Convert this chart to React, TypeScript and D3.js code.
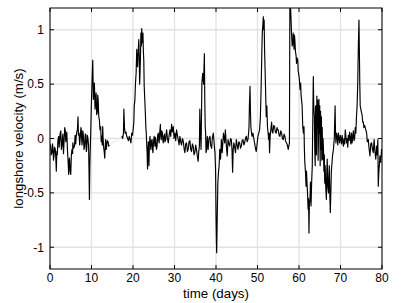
import React from "react";
import * as d3 from "d3";

const xTickValues = [0, 10, 20, 30, 40, 50, 60, 70, 80];
const yTickValues = [-1, -0.5, 0, 0.5, 1];
const xDomain: [number, number] = [0, 80];
const yDomain: [number, number] = [-1.2, 1.2];

// [time (days), longshore velocity (m/s)]
const record1: [number, number][] = [
  [0, -0.05], [0.16, -0.07], [0.3, -0.15], [0.48, -0.13], [0.6, -0.05], [0.72, -0.09], [0.85, -0.2], [0.96, -0.16],
  [1.1, -0.08], [1.28, -0.1], [1.4, -0.18], [1.52, -0.3], [1.65, -0.12], [1.76, -0.15], [1.9, -0.02], [2.1, 0.02],
  [2.2, -0.08], [2.3, -0.04], [2.45, 0.05], [2.6, 0.07], [2.75, -0.1], [2.9, -0.06], [3.0, 0.0], [3.1, 0.04],
  [3.25, -0.14], [3.4, -0.02], [3.55, 0.1], [3.7, 0.07], [3.8, -0.03], [3.9, 0.01], [4.05, 0.06], [4.2, -0.1],
  [4.35, -0.2], [4.5, -0.33], [4.6, -0.2], [4.7, -0.18], [4.85, -0.3], [5.0, -0.33], [5.15, -0.15], [5.3, -0.1],
  [5.45, -0.14], [5.5, -0.04], [5.7, -0.09], [5.9, -0.07], [6.05, 0.03], [6.2, -0.05], [6.3, 0.01], [6.45, 0.06],
  [6.6, 0.08], [6.75, 0.2], [6.85, 0.03], [7.0, 0.05], [7.15, -0.06], [7.3, 0.01], [7.45, 0.1], [7.55, 0.08],
  [7.7, -0.06], [7.8, -0.02], [7.9, 0.07], [8.0, 0.05], [8.2, -0.1], [8.35, -0.07], [8.5, 0.04], [8.6, 0.04],
  [8.75, -0.12], [8.85, -0.1], [9.0, 0.03], [9.15, 0.0], [9.3, -0.07], [9.4, -0.3], [9.5, -0.56], [9.6, -0.25],
  [9.7, -0.1], [9.8, 0.04], [9.9, 0.2], [10.0, 0.36], [10.15, 0.55], [10.3, 0.72], [10.45, 0.36], [10.6, 0.45],
  [10.7, 0.51], [10.85, 0.27], [11.0, 0.35], [11.1, 0.42], [11.25, 0.22], [11.4, 0.24], [11.5, 0.4], [11.6, 0.36],
  [11.75, 0.2], [11.9, 0.17], [12.05, 0.08], [12.2, 0.11], [12.35, -0.03], [12.45, 0.02], [12.6, -0.06], [12.7, 0.11],
  [12.8, 0.0], [12.9, -0.07], [13.05, -0.12], [13.2, -0.18], [13.3, -0.08], [13.4, -0.01], [13.55, -0.1], [13.65, -0.07],
  [13.8, -0.02], [14.0, -0.03], [14.15, -0.07], [14.3, -0.06],
];

const gapRecord: [number, number][] = [
  [14.3, -0.06], [15.3, -0.03], [16.3, -0.02], [17.3, 0.02],
];

const record2: [number, number][] = [
  [17.3, 0.02], [17.5, 0.0], [17.7, 0.05], [17.8, 0.27], [17.95, 0.1], [18.1, 0.05], [18.3, 0.06], [18.5, 0.02],
  [18.7, 0.0], [18.9, -0.02], [19.1, 0.02], [19.3, -0.01], [19.5, -0.04], [19.7, 0.05], [19.9, 0.03], [20.1, 0.11],
  [20.2, 0.15], [20.3, 0.3], [20.45, 0.35], [20.6, 0.51], [20.75, 0.6], [20.9, 0.82], [21.0, 0.7], [21.1, 0.66],
  [21.25, 0.8], [21.4, 0.91], [21.5, 0.76], [21.6, 0.5], [21.7, 0.6], [21.8, 0.75], [21.9, 0.97], [22.0, 0.85],
  [22.1, 1.01], [22.25, 0.88], [22.4, 0.97], [22.5, 0.8], [22.6, 0.72], [22.7, 0.48], [22.85, 0.35], [22.97, 0.24],
  [23.1, 0.1], [23.2, 0.05], [23.3, -0.05], [23.4, -0.13], [23.5, -0.28], [23.6, -0.1], [23.7, -0.03], [23.85, -0.25],
  [23.95, -0.05], [24.1, 0.02], [24.2, -0.05], [24.3, -0.1], [24.45, -0.02], [24.6, -0.01], [24.7, -0.1], [24.8, -0.13],
  [24.95, -0.03], [25.1, 0.02], [25.2, -0.04], [25.3, -0.07], [25.4, 0.01], [25.5, -0.01], [25.65, -0.1], [25.8, -0.07],
  [25.95, 0.03], [26.1, 0.05], [26.2, -0.02], [26.3, -0.04], [26.45, 0.06], [26.6, 0.13], [26.7, 0.02], [26.8, -0.01],
  [26.95, 0.07], [27.1, 0.05], [27.2, -0.02], [27.3, -0.04], [27.45, 0.02], [27.6, 0.04], [27.7, -0.03], [27.9, -0.01],
  [28.0, 0.05], [28.1, 0.08], [28.3, 0.0], [28.5, -0.04], [28.7, 0.03], [28.9, 0.08], [29.1, 0.02], [29.3, 0.13],
  [29.5, 0.06], [29.7, 0.11], [29.9, 0.0], [30.1, 0.05], [30.3, -0.02], [30.5, 0.08], [30.7, 0.03], [30.9, -0.01],
  [31.1, -0.06], [31.3, 0.02], [31.5, -0.03], [31.7, -0.06], [31.9, 0.0], [32.1, -0.02], [32.3, -0.09], [32.5, -0.13],
  [32.7, -0.05], [32.9, -0.04], [33.1, -0.12], [33.3, -0.1], [33.5, -0.03], [33.7, -0.02], [33.9, -0.1], [34.1, -0.12],
  [34.3, -0.05], [34.5, -0.07], [34.7, -0.15], [34.9, -0.13], [35.1, -0.06], [35.3, -0.1], [35.5, -0.16], [35.7, -0.21],
  [35.85, -0.12], [36.0, -0.07], [36.1, 0.27], [36.25, 0.05], [36.4, -0.1], [36.5, 0.2], [36.6, 0.51], [36.8, 0.6],
  [37.0, 0.5], [37.2, 0.78], [37.3, 0.35], [37.4, 0.11], [37.5, 0.05], [37.6, -0.13], [37.75, -0.1], [37.9, 0.02],
  [38.0, -0.05], [38.1, -0.1], [38.3, 0.0], [38.55, 0.02], [38.7, -0.06], [38.95, -0.09], [39.1, 0.0], [39.35, 0.05],
  [39.5, -0.02], [39.6, -0.07], [39.76, -0.13], [39.9, -0.3], [40.0, -0.7], [40.1, -0.95], [40.16, -1.05], [40.25, -0.85],
  [40.3, -0.71], [40.45, -0.4], [40.6, -0.31], [40.75, -0.25], [40.9, -0.1], [41.1, -0.19], [41.3, -0.01], [41.5, -0.13],
  [41.8, 0.05], [42.1, -0.04], [42.25, 0.08], [42.5, -0.07], [42.7, -0.16], [42.9, -0.01], [43.1, -0.05], [43.3, -0.07],
  [43.5, 0.0], [43.7, -0.01], [43.85, -0.1], [44.0, -0.31], [44.15, -0.1], [44.3, -0.04], [44.5, -0.08], [44.7, -0.13],
  [44.9, -0.01], [45.1, -0.06], [45.3, -0.1], [45.5, -0.03], [45.7, -0.04], [45.9, -0.09], [46.1, -0.07], [46.3, -0.02],
  [46.5, -0.01], [46.7, -0.06], [46.9, -0.04], [47.1, 0.0], [47.3, 0.02], [47.5, -0.03], [47.7, -0.01], [47.85, 0.05],
  [47.95, 0.1], [48.05, 0.3], [48.2, 0.48], [48.3, 0.25], [48.4, 0.11], [48.55, 0.05], [48.7, 0.02], [48.9, 0.05],
  [49.1, 0.0], [49.3, -0.04], [49.5, -0.09], [49.7, -0.12], [49.9, -0.05], [50.1, 0.02], [50.3, 0.05], [50.5, 0.08],
  [50.7, 0.2], [50.9, 0.51], [51.05, 0.8], [51.15, 0.97], [51.3, 1.05], [51.4, 1.12], [51.5, 1.0], [51.6, 1.09],
  [51.7, 0.82], [51.85, 0.6], [52.0, 0.36], [52.1, 0.2], [52.25, 0.3], [52.4, 0.11], [52.55, 0.05], [52.7, -0.01],
  [52.8, 0.05], [52.9, -0.13], [53.05, 0.02], [53.2, 0.08], [53.4, 0.15], [53.55, 0.06], [53.7, 0.05], [53.9, 0.12],
  [54.1, 0.11], [54.3, 0.06], [54.5, 0.05], [54.7, 0.1], [54.85, 0.08], [55.0, 0.08], [55.2, 0.03], [55.4, 0.02],
  [55.6, 0.07], [55.8, 0.05], [56.0, 0.0], [56.2, -0.01], [56.4, 0.04], [56.6, 0.02], [56.8, -0.03], [57.0, -0.04],
  [57.2, -0.06], [57.4, -0.1], [57.55, -0.07], [57.7, -0.04], [57.8, 1.25], [58.0, 1.18], [58.2, 0.97], [58.35, 0.85],
  [58.5, 0.88], [58.6, 0.97], [58.7, 0.9], [58.8, 0.82], [58.9, 0.95], [59.0, 0.91], [59.15, 0.8], [59.3, 0.76],
  [59.4, 0.69], [59.55, 0.74], [59.7, 0.72], [59.8, 0.62], [59.9, 0.6], [60.1, 0.54], [60.25, 0.45], [60.4, 0.51],
  [60.5, 0.4], [60.6, 0.36], [60.75, 0.3], [60.9, 0.11], [61.05, 0.05], [61.2, 0.11], [61.3, -0.1], [61.4, -0.22],
  [61.55, -0.3], [61.7, -0.44], [61.8, -0.3], [61.9, -0.38], [62.05, -0.5], [62.2, -0.65], [62.3, -0.55], [62.4, -0.87],
  [62.5, -0.6], [62.65, -0.56], [62.75, -0.4], [62.9, -0.62], [63.05, -0.4], [63.2, -0.25], [63.3, 0.1], [63.45, 0.57],
  [63.55, 0.3], [63.7, 0.2], [63.8, -0.1], [63.9, -0.25], [64.0, 0.3], [64.1, 0.11], [64.2, -0.15], [64.3, 0.39],
  [64.4, 0.1], [64.5, 0.35], [64.6, -0.2], [64.7, -0.01], [64.8, 0.36], [64.9, 0.05], [65.0, 0.3], [65.1, -0.25],
  [65.2, 0.25], [65.3, -0.1], [65.4, 0.2], [65.5, -0.2], [65.6, 0.1], [65.7, -0.19], [65.8, 0.0], [65.9, -0.1],
  [66.0, -0.3], [66.1, -0.15], [66.2, -0.41], [66.3, -0.25], [66.45, -0.45], [66.6, -0.56], [66.7, -0.3], [66.8, -0.19],
  [66.95, -0.45], [67.1, -0.5], [67.2, -0.35], [67.3, -0.25], [67.45, -0.55], [67.55, -0.68], [67.7, -0.45], [67.8, -0.3],
  [67.9, -0.25], [68.1, -0.15], [68.3, -0.1], [68.5, 0.0], [68.7, 0.3], [68.8, 0.05], [68.9, -0.04], [69.05, 0.05],
  [69.2, 0.02], [69.35, -0.06], [69.5, 0.05], [69.65, 0.0], [69.8, -0.04], [69.95, 0.03], [70.1, 0.0], [70.25, -0.05],
  [70.4, 0.03], [70.55, -0.03], [70.7, -0.07], [70.85, 0.0], [71.0, -0.05], [71.15, 0.08], [71.3, 0.02], [71.45, -0.04],
  [71.6, 0.0], [71.75, -0.08], [71.9, 0.03], [72.05, -0.02], [72.2, 0.06], [72.35, 0.0], [72.5, -0.05], [72.65, 0.05],
  [72.8, -0.04], [72.95, 0.02], [73.1, 0.07], [73.25, -0.02], [73.4, 0.0], [73.55, 0.1], [73.7, 0.05], [73.85, 0.2],
  [74.0, 0.3], [74.15, 0.5], [74.3, 0.85], [74.45, 1.09], [74.55, 0.8], [74.65, 0.5], [74.75, 0.3], [74.9, 0.27],
  [75.05, 0.24], [75.2, 0.22], [75.35, 0.15], [75.5, 0.15], [75.65, 0.1], [75.8, 0.12], [75.9, 0.11], [76.1, 0.08],
  [76.3, 0.05], [76.45, -0.03], [76.7, -0.01], [76.85, -0.08], [77.1, -0.16], [77.3, -0.05], [77.5, -0.04], [77.7, -0.1],
  [77.9, -0.13], [78.1, -0.01], [78.3, -0.12], [78.5, -0.19], [78.7, -0.07], [78.85, -0.15], [79.0, -0.01], [79.1, -0.44],
  [79.25, -0.3], [79.35, -0.25], [79.5, -0.16], [79.7, -0.22], [79.9, -0.1], [80.0, -0.15],
];

const W = 416;
const H = 303;
const left = 50;
const right = 382;
const top = 8;
const bottom = 269;

export default function App() {
  const x = d3.scaleLinear().domain(xDomain).range([left, right]);
  const y = d3.scaleLinear().domain(yDomain).range([bottom, top]);
  const line = d3
    .line<[number, number]>()
    .x((d) => x(d[0]))
    .y((d) => y(d[1]));
  const font = "'Liberation Sans', Arial, Helvetica, sans-serif";
  const tickLen = 4;
  return (
    <svg
      width={W}
      height={H}
      style={{ position: "absolute", left: 0, top: 0, background: "#fff" }}
    >
      <defs>
        <clipPath id="plotClip">
          <rect x={left} y={top} width={right - left} height={bottom - top} />
        </clipPath>
      </defs>
      <rect x={0} y={0} width={W} height={H} fill="#fff" />
      {/* grid */}
      {xTickValues.map((t) => (
        <line key={"gx" + t} x1={x(t)} x2={x(t)} y1={top} y2={bottom} stroke="#e2e2e2" strokeWidth={1.3} />
      ))}
      {yTickValues.map((t) => (
        <line key={"gy" + t} x1={left} x2={right} y1={y(t)} y2={y(t)} stroke="#e2e2e2" strokeWidth={1.3} />
      ))}
      {/* data */}
      <g clipPath="url(#plotClip)">
        <path d={line(gapRecord) || ""} fill="none" stroke="#e8e8e8" strokeWidth={1} />
        <path d={line(record1) || ""} fill="none" stroke="#000" strokeWidth={1.15} strokeLinejoin="round" />
        <path d={line(record2) || ""} fill="none" stroke="#000" strokeWidth={1.15} strokeLinejoin="round" />
      </g>
      {/* ticks */}
      {xTickValues.map((t) => (
        <g key={"tx" + t}>
          <line x1={x(t)} x2={x(t)} y1={bottom} y2={bottom - tickLen} stroke="#000" strokeWidth={1} />
          <line x1={x(t)} x2={x(t)} y1={top} y2={top + tickLen} stroke="#000" strokeWidth={1} />
          <text x={x(t)} y={282} textAnchor="middle" fontFamily={font} fontSize={12} fill="#000">
            {d3.format("d")(t)}
          </text>
        </g>
      ))}
      {yTickValues.map((t) => (
        <g key={"ty" + t}>
          <line x1={left} x2={left + tickLen} y1={y(t)} y2={y(t)} stroke="#000" strokeWidth={1} />
          <line x1={right} x2={right - tickLen} y1={y(t)} y2={y(t)} stroke="#000" strokeWidth={1} />
          <text x={44} y={y(t) + 4.3} textAnchor="end" fontFamily={font} fontSize={12} fill="#000">
            {String(t)}
          </text>
        </g>
      ))}
      {/* frame */}
      <rect x={left} y={top} width={right - left} height={bottom - top} fill="none" stroke="#000" strokeWidth={1} />
      {/* axis titles */}
      <text x={(left + right) / 2} y={297.5} textAnchor="middle" fontFamily={font} fontSize={13.3} fill="#000">
        time (days)
      </text>
      <text
        transform={`translate(23, ${(top + bottom) / 2}) rotate(-90)`}
        textAnchor="middle"
        fontFamily={font}
        fontSize={13.3}
        fill="#000"
      >
        longshore velocity (m/s)
      </text>
    </svg>
  );
}
